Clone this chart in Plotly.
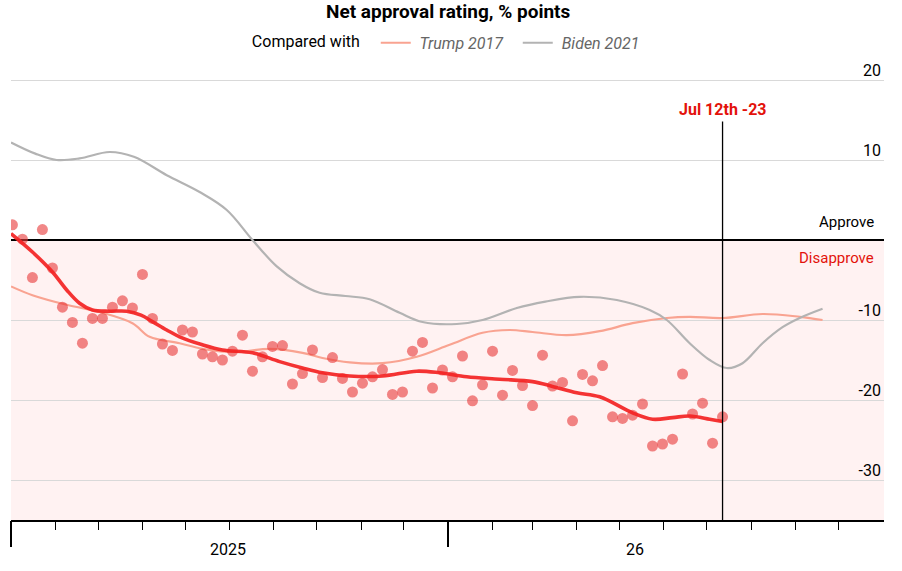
import pandas as pd
import plotly.graph_objects as go

# ---------------- data ----------------
poll_end = "2026-07-12"
poll_values = [1.9, 0.1, -4.7, 1.3, -3.5, -8.4, -10.3, -12.9, -9.8, -9.8,
               -8.4, -7.6, -8.5, -4.3, -9.8, -13.0, -13.8, -11.25, -11.5, -14.25,
               -14.6, -15.0, -13.9, -11.9, -16.4, -14.6, -13.3, -13.2, -18.0, -16.7,
               -13.75, -17.2, -14.7, -17.3, -19.0, -17.9, -17.1, -16.2, -19.3, -19.0,
               -13.9, -12.8, -18.5, -16.25, -17.1, -14.5, -20.1, -18.1, -13.9, -19.4,
               -16.3, -18.2, -20.7, -14.4, -18.25, -17.8, -22.6, -16.8, -17.6, -15.7,
               -22.1, -22.3, -21.9, -20.5, -25.75, -25.5, -24.9, -16.75, -21.75, -20.4,
               -25.4, -22.1]
poll_dates = pd.date_range(end=poll_end, periods=len(poll_values), freq="7D")

trend_dates = ["2025-03-01", "2025-03-16", "2025-03-30", "2025-04-09", "2025-04-18",
               "2025-04-27", "2025-05-09", "2025-05-21", "2025-05-31", "2025-06-08",
               "2025-06-18", "2025-06-27", "2025-07-13", "2025-07-27", "2025-08-17",
               "2025-09-05", "2025-09-21", "2025-10-05", "2025-10-24", "2025-11-16",
               "2025-12-10", "2025-12-26", "2026-01-14", "2026-02-06", "2026-03-01",
               "2026-03-15", "2026-04-01", "2026-04-17", "2026-05-10", "2026-05-24",
               "2026-06-07", "2026-06-19", "2026-07-03", "2026-07-12"]
trend_values = [0.8, -1.5, -4.0, -6.25, -7.9, -8.75, -8.9, -8.9, -9.4, -10.2,
                -11.25, -12.1, -13.1, -13.75, -14.1, -15.2, -16.0, -16.6, -17.0, -17.0,
                -16.4, -16.6, -17.1, -17.4, -17.7, -18.3, -19.1, -19.6, -21.6, -22.4,
                -22.2, -22.0, -22.4, -22.7]

trump_dates = ["2025-03-01", "2025-03-16", "2025-04-09", "2025-05-02", "2025-05-25",
               "2025-06-06", "2025-06-27", "2025-07-13", "2025-08-06", "2025-08-29",
               "2025-09-21", "2025-10-05", "2025-10-24", "2025-11-16", "2025-12-10",
               "2026-01-02", "2026-01-25", "2026-02-13", "2026-03-01", "2026-03-25",
               "2026-04-17", "2026-05-10", "2026-06-03", "2026-06-19", "2026-07-12",
               "2026-08-09", "2026-09-04", "2026-09-20"]
trump_values = [-5.8, -6.9, -8.1, -9.0, -10.4, -12.1, -12.9, -13.6, -14.0, -13.6,
                -14.1, -14.75, -15.3, -15.4, -14.6, -13.1, -11.6, -11.25, -11.5, -11.9,
                -11.4, -10.4, -9.75, -9.6, -9.75, -9.25, -9.6, -10.0]

biden_dates = ["2025-03-01", "2025-03-18", "2025-04-02", "2025-04-18", "2025-05-09",
               "2025-05-26", "2025-06-18", "2025-07-11", "2025-07-30", "2025-08-17",
               "2025-09-03", "2025-09-19", "2025-10-03", "2025-10-21", "2025-11-07",
               "2025-11-28", "2025-12-14", "2026-01-07", "2026-01-25", "2026-02-18",
               "2026-03-10", "2026-04-03", "2026-04-29", "2026-05-22", "2026-06-03",
               "2026-06-19", "2026-07-03", "2026-07-15", "2026-07-26", "2026-08-09",
               "2026-08-23", "2026-09-04", "2026-09-20"]
biden_values = [12.2, 10.8, 10.0, 10.2, 11.0, 10.4, 8.1, 6.0, 3.75, 0.0,
                -3.3, -5.4, -6.6, -7.0, -7.4, -9.1, -10.25, -10.5, -10.0, -8.5,
                -7.7, -7.1, -7.5, -8.75, -10.0, -12.9, -15.0, -16.0, -15.4, -12.9,
                -10.9, -9.75, -8.6]

y_tick_vals = [20, 10, -10, -20, -30]
y_tick_text = ["20", "10", "-10", "-20", "-30"]
month_ticks_start = "2025-03-01"
year_tick_vals = ["2025-03-01", "2026-01-01"]
year_labels = ["2025", "26"]
year_label_pos = ["2025-07-31", "2026-05-12"]
x_range = ["2025-03-01", "2026-11-02"]
y_range = [-35, 23]
marker_date = "2026-07-12"
marker_label = "Jul 12th -23"

RED = "#e3120b"
FONT = "Roboto"
NARROW = "Liberation Sans Narrow, Roboto"

fig = go.Figure()

fig.add_trace(go.Scatter(x=trump_dates, y=trump_values, mode="lines",
                         line=dict(color="#f9a391", width=2.2, shape="spline", smoothing=1),
                         name="<i> Trump 2017</i>", showlegend=True))
fig.add_trace(go.Scatter(x=biden_dates, y=biden_values, mode="lines",
                         line=dict(color="#b3b3b3", width=2.2, shape="spline", smoothing=1),
                         name="<i> Biden 2021</i>", showlegend=True))
fig.add_trace(go.Scatter(x=poll_dates, y=poll_values, mode="markers",
                         marker=dict(color="rgba(232,55,55,0.6)", size=11, line=dict(width=0)),
                         showlegend=False))
fig.add_trace(go.Scatter(x=trend_dates, y=trend_values, mode="lines",
                         line=dict(color="rgba(243,35,35,0.92)", width=3.6, shape="spline", smoothing=1),
                         showlegend=False))
# invisible trace for the long year-tick axis
fig.add_trace(go.Scatter(x=year_tick_vals, y=[0, 0], xaxis="x2", mode="markers",
                         marker=dict(opacity=0), showlegend=False, hoverinfo="skip"))

fig.update_layout(
    width=902, height=571,
    margin=dict(l=11, r=18, t=56, b=51, autoexpand=False),
    paper_bgcolor="white", plot_bgcolor="white",
    font=dict(family=FONT, color="#000000", size=16),
    showlegend=True,
    legend=dict(orientation="h", x=0.277, xref="container", xanchor="left",
                y=0.925, yanchor="middle", yref="container",
                title=dict(text="Compared with  ", font=dict(family=FONT, size=16, color="#000")),
                font=dict(family=FONT, size=16, color="#666666"),
                itemwidth=30, entrywidth=97, tracegroupgap=0, bgcolor="rgba(0,0,0,0)"),
    xaxis=dict(type="date", range=x_range, tick0=month_ticks_start, dtick="M1",
               ticks="outside", ticklen=8, tickcolor="#000", tickwidth=1,
               showticklabels=False, showgrid=False, zeroline=False,
               showline=True, linecolor="#000", linewidth=1.5),
    xaxis2=dict(type="date", overlaying="x", matches="x", anchor="y", side="bottom",
                tickvals=year_tick_vals, ticks="outside", ticklen=26, tickcolor="#000",
                tickwidth=1.5, showticklabels=False, showgrid=False, zeroline=False,
                showline=False),
    yaxis=dict(range=y_range, side="right", tickvals=y_tick_vals, ticktext=y_tick_text,
               ticks="", ticklabelposition="inside", ticklabelshift=-10,
               tickfont=dict(family=NARROW, size=16, color="#000"),
               showgrid=True, gridcolor="#d9d9d9", gridwidth=1,
               zeroline=True, zerolinecolor="#000", zerolinewidth=2,
               showline=False),
)

# pink disapprove area
fig.add_shape(type="rect", xref="paper", x0=0, x1=1, yref="y", y0=y_range[0], y1=0,
              fillcolor="#fff2f2", line=dict(width=0), layer="below")
# vertical marker line
fig.add_shape(type="line", xref="x", x0=marker_date, x1=marker_date, yref="y",
              y0=y_range[0], y1=14.8, line=dict(color="#000", width=1.3), layer="above")

annotations = [
    dict(text="<b>Net approval rating, % points</b>", xref="paper", x=0.5,
         yref="paper", y=1, yshift=45, xanchor="center", yanchor="middle",
         showarrow=False, font=dict(family=FONT, size=19, color="#000")),
    dict(text="<b>" + marker_label + "</b>", xref="x", x=marker_date, yref="y", y=14.8,
         yshift=12, xanchor="center", yanchor="middle", showarrow=False,
         font=dict(family=FONT, size=16, color=RED)),
    dict(text="Approve", xref="paper", x=1, xshift=-8, yref="y", y=0, yshift=7,
         xanchor="right", yanchor="bottom", showarrow=False,
         font=dict(family=FONT, size=15, color="#000")),
    dict(text="Disapprove", xref="paper", x=1, xshift=-8, yref="y", y=0, yshift=-7,
         xanchor="right", yanchor="top", showarrow=False,
         font=dict(family=FONT, size=15, color=RED)),
]
for lab, pos in zip(year_labels, year_label_pos):
    annotations.append(dict(text=lab, xref="x", x=pos, yref="paper", y=0, yshift=-29,
                            xanchor="center", yanchor="middle", showarrow=False,
                            font=dict(family=NARROW, size=16, color="#000")))
fig.update_layout(annotations=annotations)

fig.write_html("out.html")
